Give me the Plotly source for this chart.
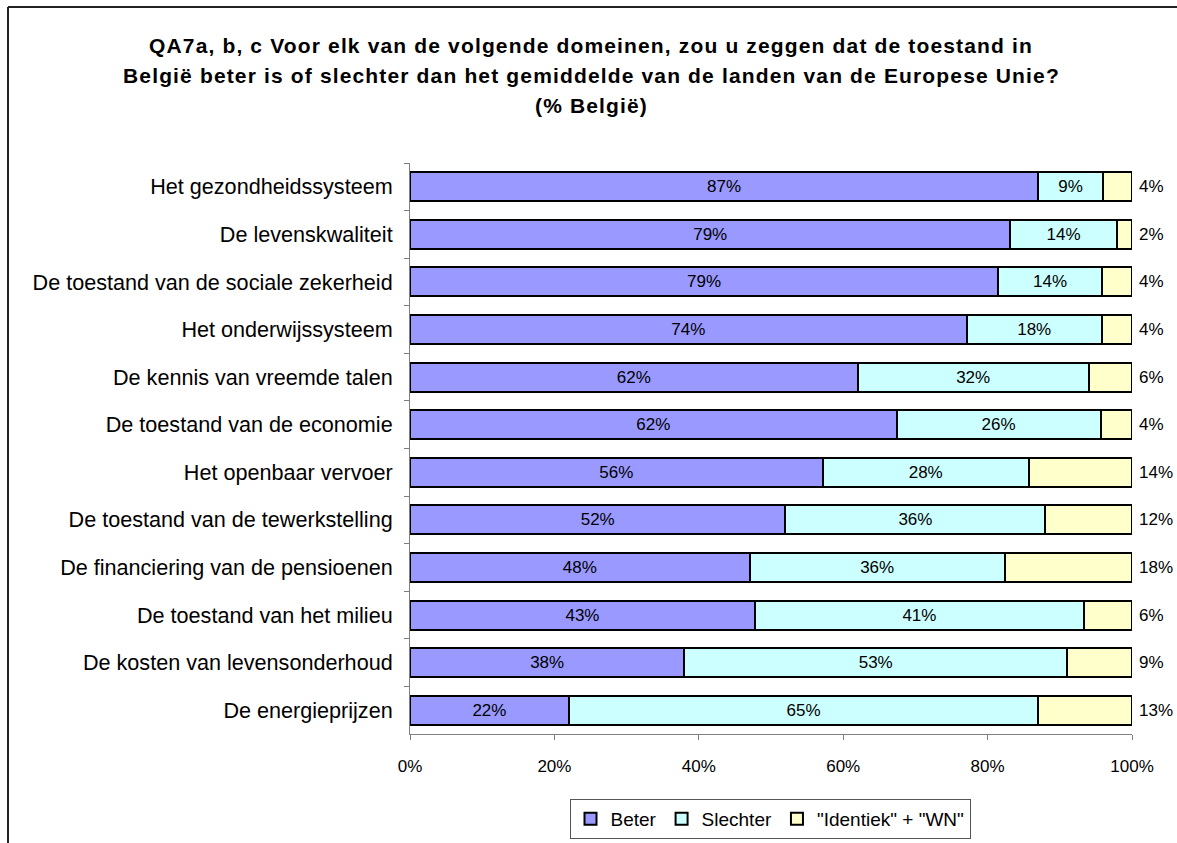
import plotly.graph_objects as go

categories = [
    "Het gezondheidssysteem",
    "De levenskwaliteit",
    "De toestand van de sociale zekerheid",
    "Het onderwijssysteem",
    "De kennis van vreemde talen",
    "De toestand van de economie",
    "Het openbaar vervoer",
    "De toestand van de tewerkstelling",
    "De financiering van de pensioenen",
    "De toestand van het milieu",
    "De kosten van levensonderhoud",
    "De energieprijzen",
]
beter = [87, 79, 79, 74, 62, 62, 56, 52, 48, 43, 38, 22]
slechter = [9, 14, 14, 18, 32, 26, 28, 36, 36, 41, 53, 65]
identiek = [4, 2, 4, 4, 6, 4, 14, 12, 18, 6, 9, 13]

series_names = ["Beter", "Slechter", "\"Identiek\" + \"WN\""]
colors = ["#9999FF", "#CCFFFF", "#FFFFCC"]
title_lines = [
    "QA7a, b, c Voor elk van de volgende domeinen, zou u zeggen dat de toestand in",
    "België beter is of slechter dan het gemiddelde van de landen van de Europese Unie?",
    "(% België)",
]
x_ticks = [0, 20, 40, 60, 80, 100]

FONT = "Liberation Sans, Arial, sans-serif"

fig = go.Figure()
for i, (name, vals) in enumerate(zip(series_names, [beter, slechter, identiek])):
    fig.add_trace(go.Bar(
        y=categories, x=vals, name=name, orientation="h",
        marker=dict(color=colors[i], line=dict(color="black", width=2)),
        text=[f"{v}%" for v in vals] if i < 2 else None,
        textposition="inside" if i < 2 else "none",
        insidetextanchor="middle",
        textangle=0,
        constraintext="none",
        textfont=dict(family=FONT, size=17, color="black"),
        hoverinfo="skip",
    ))

# labels of the third series, right of the 100% end
for cat, v in zip(categories, identiek):
    fig.add_annotation(
        x=100, y=cat, xref="x", yref="y", text=f"{v}%", showarrow=False,
        xanchor="left", xshift=5,
        font=dict(family=FONT, size=17, color="black"),
    )

W, H = 1177, 843
L, R, T, B = 410, 1132, 163, 734
def py(p):
    return (B - p) / (B - T)
def px(p):
    return (p - L) / (R - L)

for line, yy in zip(title_lines, [45, 75, 105]):
    fig.add_annotation(
        x=px(591), y=py(yy), xref="paper", yref="paper",
        text=f"<b><span style=\"letter-spacing:1.15px\">{line}</span></b>",
        showarrow=False, xanchor="center", yanchor="middle",
        font=dict(family=FONT, size=21, color="black"),
    )

# outer frame (only left and top edges are visible in the picture)
fig.add_shape(type="line", xref="paper", yref="paper",
              x0=px(8), x1=px(8), y0=py(850), y1=py(7),
              line=dict(color="#222222", width=2), layer="below")
fig.add_shape(type="line", xref="paper", yref="paper",
              x0=px(8), x1=px(1190), y0=py(7), y1=py(7),
              line=dict(color="#222222", width=2), layer="below")

fig.update_layout(
    width=W, height=H,
    margin=dict(l=L, r=W - R, t=T, b=H - B, pad=0, autoexpand=False),
    barmode="stack", barnorm="percent", bargap=0.39,
    plot_bgcolor="white", paper_bgcolor="white",
    font=dict(family=FONT, size=17, color="black"),
    showlegend=True,
    legend=dict(
        orientation="h", x=770 / W, y=1 - 799 / H, xref="container", yref="container",
        xanchor="center", yanchor="top",
        bordercolor="#555555", borderwidth=1,
        font=dict(family=FONT, size=19, color="black"),
        itemwidth=30, traceorder="normal",
    ),
    xaxis=dict(
        range=[0, 100], tickvals=x_ticks, ticktext=[f"{t}%" for t in x_ticks],
        showgrid=False, zeroline=False, showline=True, linecolor="#808080", linewidth=1,
        ticks="outside", ticklen=5, tickcolor="#808080", automargin=False,
        tickfont=dict(family=FONT, size=17, color="black"),
        ticklabelstandoff=12, fixedrange=True,
    ),
    yaxis=dict(
        autorange="reversed", type="category", automargin=False,
        showgrid=False, zeroline=False, showline=True, linecolor="#808080", linewidth=1,
        ticks="outside", ticklen=5, tickcolor="#808080", tickson="boundaries",
        tickfont=dict(family=FONT, size=21.6, color="black"),
        ticklabelstandoff=12, fixedrange=True,
    ),
)

fig.write_html(
    "out.html",
    config={"displayModeBar": False},
    post_script="document.body.style.margin='0px';document.body.style.overflow='hidden';",
)
